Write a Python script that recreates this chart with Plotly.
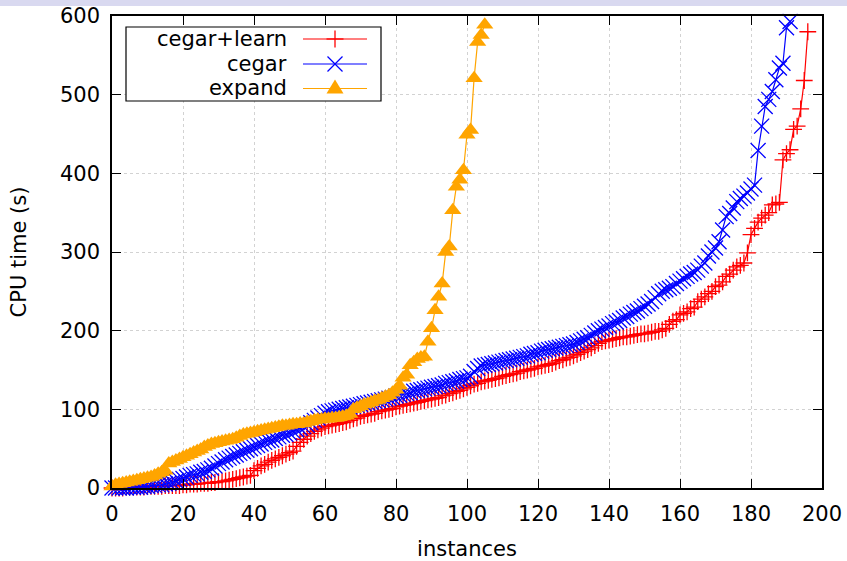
import plotly.graph_objects as go

# ---------------- data ----------------
series_names = ["cegar+learn", "cegar", "expand"]

cegar_learn = [
    0, 0, 0, 0, 1, 1, 1, 1, 1, 1, 2, 2, 2, 2, 2, 3, 3, 3, 3, 3,
    4, 4, 5, 5, 5, 6, 6, 6, 7, 7, 8, 8, 9, 10, 11, 12, 13, 14, 15, 16,
    22, 25, 28, 30, 33, 35, 37, 39, 41, 43, 45, 47, 53, 58, 62, 66, 69, 72, 74, 76,
    78, 79, 80, 81, 82, 83, 84, 86, 88, 89, 91, 92, 93, 94, 95, 97, 98, 99, 100, 101,
    103, 104, 105, 106, 107, 108, 109, 110, 111, 112, 113, 114, 115, 117, 118, 120, 121, 123, 124, 126,
    128, 130, 132, 133, 135, 136, 137, 138, 139, 140, 142, 143, 144, 145, 146, 148, 149, 150, 151, 152,
    154, 155, 156, 157, 158, 160, 162, 163, 165, 166, 168, 170, 172, 174, 176, 178, 181, 184, 186, 187,
    188, 189, 190, 191, 192, 192, 193, 194, 195, 196, 196, 197, 198, 199, 199, 201, 203, 208, 212, 214,
    220, 222, 224, 228, 230, 237, 240, 243, 247, 250, 256, 258, 262, 269, 272, 277, 281, 283, 286, 299,
    322, 330, 338, 343, 347, 350, 360, 361, 363, 417, 425, 430, 456, 460, 482, 518, 580,
]

cegar = [
    0, 0, 0, 0, 0, 1, 1, 1, 1, 2, 2, 3, 3, 4, 4, 5, 6, 7, 9, 11,
    12, 14, 16, 17, 18, 20, 21, 23, 25, 28, 31, 33, 36, 38, 40, 42, 44, 46, 48, 50,
    52, 54, 56, 58, 60, 61, 63, 65, 67, 68, 70, 72, 74, 76, 78, 80, 83, 86, 89, 92,
    95, 97, 98, 99, 100, 101, 102, 103, 104, 105, 106, 107, 108, 109, 110, 111, 112, 113, 114, 115,
    117, 118, 119, 120, 121, 123, 124, 125, 126, 127, 128, 129, 130, 131, 133, 134, 135, 136, 138, 139,
    140, 142, 148, 152, 155, 156, 157, 158, 159, 160, 161, 162, 163, 164, 165, 166, 167, 168, 170, 171,
    172, 174, 175, 176, 177, 178, 179, 180, 181, 182, 183, 185, 187, 189, 191, 194, 197, 200, 202, 204,
    206, 209, 211, 213, 216, 218, 221, 223, 225, 228, 231, 234, 237, 242, 247, 250, 252, 254, 256, 260,
    263, 266, 269, 272, 274, 277, 282, 286, 295, 300, 305, 313, 328, 345, 349, 356, 364, 368, 371, 375,
    380, 385, 429, 460, 485, 494, 504, 519, 534, 540, 585, 593,
]

expand = [
    2, 4, 5, 6, 7, 8, 9, 10, 11, 12, 13, 14, 16, 18, 20, 22, 31, 33, 35, 37,
    39, 41, 43, 45, 47, 49, 52, 54, 56, 57, 58, 59, 60, 61, 62, 64, 66, 68, 69, 70,
    71, 72, 73, 74, 75, 76, 77, 78, 79, 79, 80, 81, 81, 82, 82, 84, 85, 86, 87, 87,
    88, 88, 89, 89, 90, 91, 92, 94, 100, 102, 104, 106, 107, 109, 111, 112, 114, 116, 118, 121,
    125, 130, 140, 144, 156, 160, 164, 166, 167, 186, 203, 226, 243, 260, 300, 307, 353, 383, 392, 404,
    449, 455, 521, 567, 576, 589,
]

x_ticks = [0, 20, 40, 60, 80, 100, 120, 140, 160, 180, 200]
x_tick_labels = ["0", "20", "40", "60", "80", "100", "120", "140", "160", "180", "200"]
y_ticks = [0, 100, 200, 300, 400, 500, 600]
y_tick_labels = ["0", "100", "200", "300", "400", "500", "600"]

x_title = "instances"
y_title = "CPU time (s)"

# ---------------- styles ----------------
colors = ["#ff0000", "#0000ff", "#ffa500"]
symbols = ["cross-thin", "x-thin", "triangle-up"]
sizes = [12, 15, 15]
FONT = "DejaVu Sans"
FS = 21

W, H = 847, 561
ML, MR, MT, MB = 112, 25, 16, 73
PW, PH = W - ML - MR, H - MT - MB

fig = go.Figure()

all_series = [cegar_learn, cegar, expand]
for name, vals, col, sym, sz in zip(series_names, all_series, colors, symbols, sizes):
    mk = dict(symbol=sym, size=sz, color=col)
    if sym.endswith("thin"):
        mk["line"] = dict(color=col, width=1.3)
    else:
        mk["line"] = dict(width=0)
    fig.add_trace(go.Scatter(
        x=list(range(len(vals))), y=vals, mode="lines+markers",
        name=name, line=dict(color=col, width=1.2), marker=mk,
        cliponaxis=False, showlegend=False, hoverinfo="skip",
    ))

# ---------------- manual legend (gnuplot style: text left, sample right) ----------------
def px_x(p):
    return (p - ML) / PW

def px_y(p):
    return 1 - (p - MT) / PH

lg_left, lg_right, lg_top, lg_bot = 126, 381, 27, 101
text_right = 289
samp_x0, samp_x1 = 303, 367
rows = [39, 64, 88.5]
smid = (samp_x0 + samp_x1) / 2

def pline(x0, y0, x1, y1, col, w):
    fig.add_shape(type="line", xref="paper", yref="paper",
                  x0=px_x(x0), y0=px_y(y0), x1=px_x(x1), y1=px_y(y1),
                  line=dict(color=col, width=w), layer="above")

fig.add_shape(type="rect", xref="paper", yref="paper",
              x0=px_x(lg_left), x1=px_x(lg_right), y0=px_y(lg_bot), y1=px_y(lg_top),
              line=dict(color="black", width=1.2), fillcolor="white", layer="above")

for name, col, sym, ry in zip(series_names, colors, symbols, rows):
    fig.add_annotation(xref="paper", yref="paper", x=px_x(text_right), y=px_y(ry),
                       text=name, showarrow=False, xanchor="right", yanchor="middle",
                       font=dict(family=FONT, size=FS, color="black"))
    pline(samp_x0, ry, samp_x1, ry, col, 1.2)
    if sym == "cross-thin":
        pline(smid - 8.5, ry, smid + 8.5, ry, col, 1.3)
        pline(smid, ry - 8.5, smid, ry + 8.5, col, 1.3)
    elif sym == "x-thin":
        pline(smid - 7.5, ry - 7.5, smid + 7.5, ry + 7.5, col, 1.3)
        pline(smid - 7.5, ry + 7.5, smid + 7.5, ry - 7.5, col, 1.3)
    else:
        path = "M {},{} L {},{} L {},{} Z".format(
            px_x(smid - 8.5), px_y(ry + 5), px_x(smid + 8.5), px_y(ry + 5),
            px_x(smid), px_y(ry - 9))
        fig.add_shape(type="path", xref="paper", yref="paper", path=path,
                      fillcolor=col, line=dict(width=0), layer="above")

# top lavender band
fig.add_shape(type="rect", xref="paper", yref="paper",
              x0=-ML / PW, x1=1 + MR / PW, y0=1 + (MT - 6) / PH, y1=1 + MT / PH,
              line=dict(width=0), fillcolor="#d9d9f0", layer="above")

axis_common = dict(
    showline=True, linecolor="black", linewidth=1.5, mirror="ticks",
    ticks="inside", ticklen=9, tickwidth=1.2, tickcolor="black",
    showgrid=True, gridcolor="#d2d2d2", griddash="dot", gridwidth=1,
    zeroline=False, automargin=False,
    tickfont=dict(family=FONT, size=FS, color="black"),
)

fig.update_layout(
    width=W, height=H,
    margin=dict(l=ML, r=MR, t=MT, b=MB, pad=0),
    paper_bgcolor="white", plot_bgcolor="white",
    showlegend=False,
    xaxis=dict(range=[0, 200], tickvals=x_ticks, ticktext=x_tick_labels,
               ticklabelstandoff=6,
               title=dict(text=x_title, font=dict(family=FONT, size=FS, color="black"), standoff=16),
               **axis_common),
    yaxis=dict(range=[0, 600], tickvals=y_ticks, ticktext=y_tick_labels,
               ticklabelstandoff=6,
               title=dict(text=y_title, font=dict(family=FONT, size=FS, color="black"), standoff=28),
               **axis_common),
)

fig.write_html("out.html", config={"displayModeBar": False},
               post_script="document.body.style.margin='0px';")
